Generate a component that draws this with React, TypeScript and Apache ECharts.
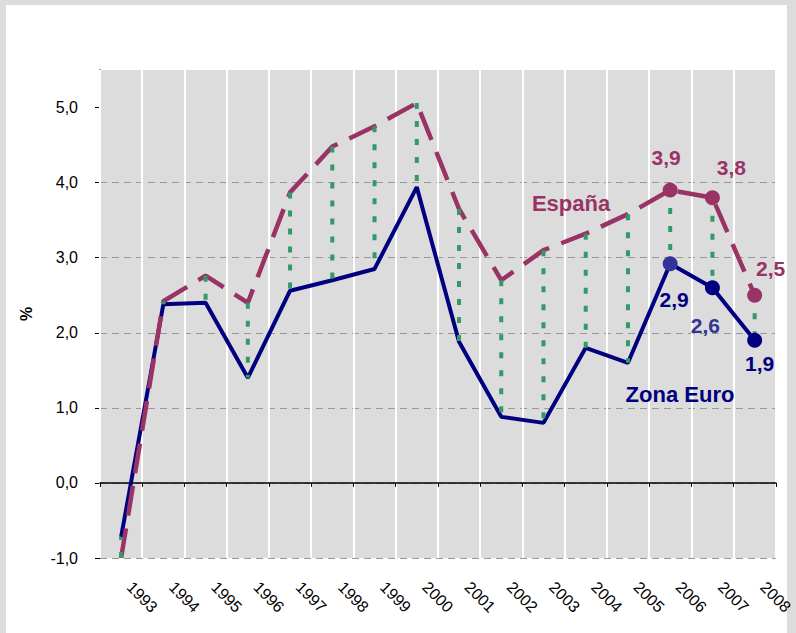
import React, { useEffect, useRef } from "react";
import * as echarts from "echarts";

const years = ["1993", "1994", "1995", "1996", "1997", "1998", "1999", "2000", "2001", "2002", "2003", "2004", "2005", "2006", "2007", "2008"];
const zonaEuro = [-0.72, 2.38, 2.4, 1.4, 2.56, 2.7, 2.85, 3.94, 1.88, 0.88, 0.8, 1.8, 1.6, 2.92, 2.6, 1.9];
const espana = [-1.0, 2.42, 2.76, 2.4, 3.87, 4.48, 4.75, 5.06, 3.65, 2.7, 3.1, 3.32, 3.58, 3.9, 3.8, 2.5];
const yTicks = [-1, 0, 1, 2, 3, 4, 5];
const markedYears = ["2006", "2007", "2008"];

const ES_COLOR = "#993366";
const ZE_COLOR = "#000080";
const ZE_ALT = "#333399";
const GREEN = "#339966";
const FONT = "'Liberation Sans', Arial, sans-serif";

const fmt = (v: number) => v.toFixed(1).replace(".", ",");

export default function App() {
  const ref = useRef<HTMLDivElement>(null);
  useEffect(() => {
    if (!ref.current) return;
    const chart = echarts.init(ref.current, null, { renderer: "svg" });

    const esOffsets = [[-4, -33], [19, -30], [16, -27]];
    const zeOffsets = [[4, 36], [-7, 38], [5, 23]];
    const zeMarkerColors = [ZE_ALT, ZE_COLOR, ZE_COLOR];
    const zeLabelColors = [ZE_COLOR, ZE_ALT, ZE_COLOR];

    const esMarkers = markedYears.map((y, k) => {
      const i = years.indexOf(y);
      return {
        value: [i, espana[i]],
        label: {
          show: true,
          position: "inside",
          offset: esOffsets[k],
          formatter: fmt(espana[i]),
          color: ES_COLOR,
          fontSize: 21,
          fontWeight: "bold",
          fontFamily: FONT,
        },
      };
    });
    const zeMarkers = markedYears.map((y, k) => {
      const i = years.indexOf(y);
      return {
        value: [i, zonaEuro[i]],
        itemStyle: { color: zeMarkerColors[k], opacity: 1 },
        label: {
          show: true,
          position: "inside",
          offset: zeOffsets[k],
          formatter: fmt(zonaEuro[i]),
          color: zeLabelColors[k],
          fontSize: 21,
          fontWeight: "bold",
          fontFamily: FONT,
        },
      };
    });

    const connectors = years.map((_, i) => [i, zonaEuro[i], espana[i]]);

    chart.setOption({
      animation: false,
      backgroundColor: "transparent",
      grid: {
        left: 100,
        right: 17,
        top: 70,
        bottom: 75,
        show: true,
        backgroundColor: "#dcdcdc",
        borderWidth: 0,
      },
      xAxis: [
        {
          type: "category",
          data: years,
          boundaryGap: true,
          axisLine: { onZero: true, lineStyle: { color: "#000", width: 1.5 } },
          axisTick: { show: true, length: 4, lineStyle: { color: "#000", width: 1 } },
          axisLabel: { show: false },
          splitLine: { show: true, lineStyle: { color: "#ffffff", width: 2 } },
          z: 1,
        },
        {
          type: "category",
          data: years,
          position: "bottom",
          boundaryGap: true,
          axisLine: { show: false, onZero: false },
          axisTick: { show: false },
          splitLine: { show: false },
          axisLabel: {
            rotate: -45,
            margin: 18,
            padding: [0, 0, 0, 12],
            fontSize: 16,
            color: "#000",
            fontFamily: FONT,
            interval: 0,
          },
        },
      ],
      yAxis: {
        type: "value",
        min: -1,
        max: 5.5,
        interval: 1,
        name: "%",
        nameLocation: "middle",
        nameRotate: 90,
        nameGap: 66,
        nameTextStyle: { fontSize: 16, fontWeight: "bold", color: "#000", fontFamily: FONT },
        axisLine: { show: true, lineStyle: { color: "#808080", width: 2 } },
        axisTick: { show: true, length: 5, customValues: yTicks, lineStyle: { color: "#000", width: 1 } },
        axisLabel: {
          customValues: yTicks,
          margin: 22,
          fontSize: 16,
          color: "#000",
          fontFamily: FONT,
          formatter: (v: number) => fmt(v),
        },
        splitLine: {
          show: true,
          showMaxLine: false,
          lineStyle: { color: "#999999", width: 1, type: [7, 5] },
        },
      },
      series: [
        {
          name: "Zona Euro",
          type: "line",
          data: zonaEuro,
          xAxisIndex: 0,
          showSymbol: false,
          symbol: "none",
          lineStyle: { color: ZE_COLOR, width: 4 },
          z: 2,
        },
        {
          name: "España",
          type: "line",
          data: espana,
          xAxisIndex: 0,
          showSymbol: false,
          symbol: "none",
          lineStyle: { color: ES_COLOR, width: 4.5, type: [30, 13] },
          z: 2,
        },
        {
          type: "custom",
          xAxisIndex: 0,
          data: connectors,
          encode: { x: 0, y: [1, 2] },
          z: 3,
          renderItem: (params: any, api: any) => {
            const x = api.value(0);
            const p1 = api.coord([x, api.value(2)]);
            const p2 = api.coord([x, api.value(1)]);
            return {
              type: "line",
              shape: { x1: p1[0], y1: p1[1], x2: p2[0], y2: p2[1] },
              style: { stroke: GREEN, lineWidth: 4, lineDash: [6, 12], fill: null },
            };
          },
        },
        {
          type: "scatter",
          xAxisIndex: 0,
          data: esMarkers,
          symbol: "circle",
          symbolSize: 15,
          itemStyle: { color: ES_COLOR, opacity: 1 },
          z: 4,
        },
        {
          type: "scatter",
          xAxisIndex: 0,
          data: zeMarkers,
          symbol: "circle",
          symbolSize: 15,
          itemStyle: { color: ZE_COLOR, opacity: 1 },
          z: 4,
        },
      ],
      graphic: [
        {
          type: "text",
          x: 571,
          y: 203,
          style: {
            text: "España",
            fill: ES_COLOR,
            font: `bold 22px ${FONT}`,
            textAlign: "center",
            textVerticalAlign: "middle",
          },
          z: 10,
        },
        {
          type: "text",
          x: 680,
          y: 394,
          style: {
            text: "Zona Euro",
            fill: ZE_COLOR,
            font: `bold 22px ${FONT}`,
            textAlign: "center",
            textVerticalAlign: "middle",
          },
          z: 10,
        },
      ],
    });
    return () => chart.dispose();
  }, []);

  return (
    <div style={{ position: "fixed", left: 0, top: 0, width: 796, height: 633, background: "#dcdcdc" }}>
      <div style={{ position: "absolute", left: 6, top: 5, width: 781, height: 628, background: "#ffffff" }} />
      <div ref={ref} style={{ position: "absolute", left: 0, top: 0, width: 796, height: 633 }} />
    </div>
  );
}
